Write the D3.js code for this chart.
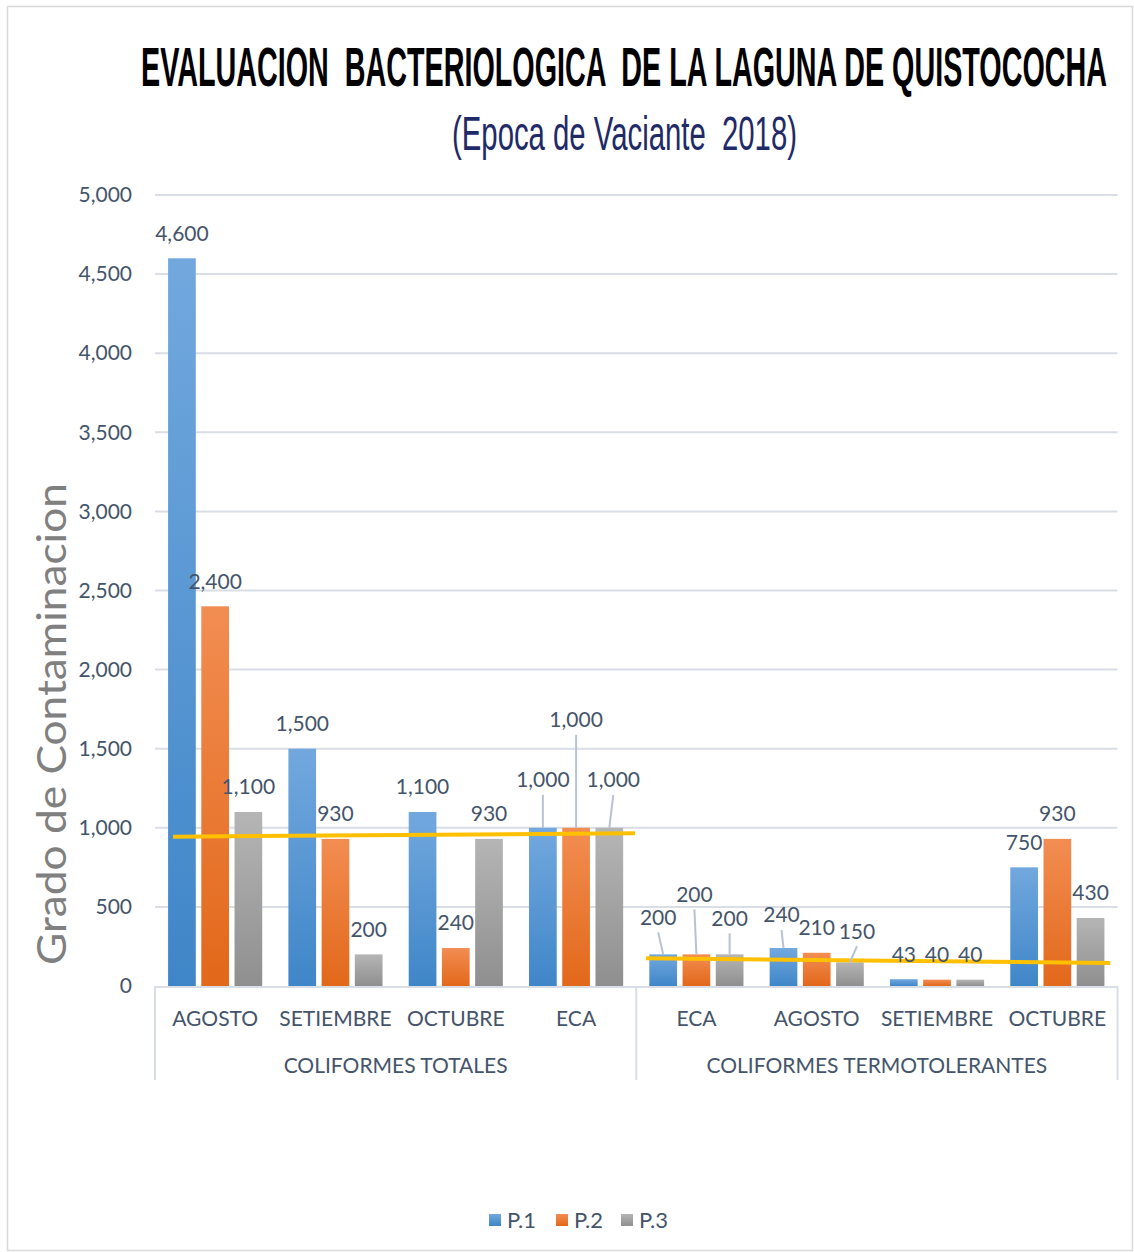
<!DOCTYPE html>
<html><head><meta charset="utf-8">
<script src="https://cdn.jsdelivr.net/npm/d3@7"></script>
<style>
html,body{margin:0;padding:0;background:#fff;}
svg{display:block;}
</style></head>
<body>
<svg id="chart" width="1134" height="1252"></svg>
<script>
// ---- data ----
const groups = ["COLIFORMES TOTALES", "COLIFORMES TERMOTOLERANTES"];
const categories = ["AGOSTO", "SETIEMBRE", "OCTUBRE", "ECA", "ECA", "AGOSTO", "SETIEMBRE", "OCTUBRE"];
const categoryGroup = [0, 0, 0, 0, 1, 1, 1, 1];
const seriesNames = ["P.1", "P.2", "P.3"];
const p1 = [4600, 1500, 1100, 1000, 200, 240, 43, 750];
const p2 = [2400, 930, 240, 1000, 200, 210, 40, 930];
const p3 = [1100, 200, 930, 1000, 200, 150, 40, 430];
const yTicks = [0, 500, 1000, 1500, 2000, 2500, 3000, 3500, 4000, 4500, 5000];
const trendTotales = [944, 965];
const trendTermo = [175, 145];

// ---- layout ----
const svg = d3.select("#chart");
const W = 1134, H = 1252;
const plot = {left: 155, right: 1117.5, top: 195, bottom: 986};
const font = "Lato, 'Open Sans', sans-serif";
const fs = 21;
const textCol = "#44546a";
const gridCol = "#d9dee6";
const colors = [
  ["#72a8de", "#3f86c8"],
  ["#f28d52", "#e2681a"],
  ["#b5b5b5", "#8f8f8f"]
];
const series = [p1, p2, p3];

// label tweaks (layout only): key "cat-series" -> [dx, dy, leader]
const labelAdjust = {
  "3-0": [0, -23, true], "3-1": [0, -83, true], "3-2": [4, -23, true],
  "4-0": [-5, -12, true], "4-1": [-2, -35, true], "4-2": [0, -11, true],
  "5-0": [-2, -8, true], "5-2": [7, -6, true]
};

// border
svg.append("rect").attr("x", 7.5).attr("y", 6.5).attr("width", W - 9).attr("height", H - 8)
  .attr("fill", "#fff").attr("stroke", "#d9d9d9").attr("stroke-width", 1.5);

// gradients
const defs = svg.append("defs");
colors.forEach((c, i) => {
  const g = defs.append("linearGradient").attr("id", "g" + i)
    .attr("x1", 0).attr("y1", 0).attr("x2", 0).attr("y2", 1);
  g.append("stop").attr("offset", "0%").attr("stop-color", c[0]);
  g.append("stop").attr("offset", "100%").attr("stop-color", c[1]);
});

// scales
const idx = categories.map((d, i) => i);
const x0 = d3.scaleBand().domain(idx).range([plot.left, plot.right]).padding(0);
const x1 = d3.scaleBand().domain([0, 1, 2]).range([0, x0.bandwidth()])
  .paddingInner(0.166).paddingOuter(0.394);
const y = d3.scaleLinear().domain([0, 5000]).range([plot.bottom, plot.top]);

// gridlines
svg.append("g").selectAll("line").data(yTicks.filter(d => d > 0)).join("line")
  .attr("x1", plot.left).attr("x2", plot.right)
  .attr("y1", d => y(d)).attr("y2", d => y(d))
  .attr("stroke", gridCol).attr("stroke-width", 2);

// y axis labels
const yAxis = d3.axisLeft(y).tickValues(yTicks).tickFormat(d3.format(",")).tickSize(0).tickPadding(0);
const yg = svg.append("g").attr("transform", `translate(132,0)`).call(yAxis);
yg.select(".domain").remove();
yg.selectAll("text").attr("font-family", font).attr("font-size", fs).attr("fill", textCol);

// category axis lines
svg.append("line").attr("x1", plot.left).attr("x2", plot.right)
  .attr("y1", plot.bottom + 1).attr("y2", plot.bottom + 1)
  .attr("stroke", gridCol).attr("stroke-width", 2);
[plot.left, x0(4), plot.right].forEach(xx => {
  svg.append("line").attr("x1", xx).attr("x2", xx).attr("y1", plot.bottom).attr("y2", 1080)
    .attr("stroke", gridCol).attr("stroke-width", 2);
});

// category labels
svg.append("g").selectAll("text").data(idx).join("text")
  .attr("x", i => x0(i) + x0.bandwidth() / 2).attr("y", 1019).attr("dy", "0.35em")
  .attr("text-anchor", "middle").attr("font-family", font).attr("font-size", fs).attr("fill", textCol)
  .text(i => categories[i]);
svg.append("g").selectAll("text").data(groups).join("text")
  .attr("x", (d, gi) => {
    const cats = idx.filter(i => categoryGroup[i] === gi);
    return (x0(cats[0]) + x0(cats[cats.length - 1]) + x0.bandwidth()) / 2;
  })
  .attr("y", 1066).attr("dy", "0.35em")
  .attr("text-anchor", "middle").attr("font-family", font).attr("font-size", fs).attr("fill", textCol)
  .text(d => d);

// bars
const barData = [];
idx.forEach(i => series.forEach((s, si) => barData.push({i, si, v: s[i]})));
svg.append("g").selectAll("rect").data(barData).join("rect")
  .attr("x", d => x0(d.i) + x1(d.si)).attr("width", x1.bandwidth())
  .attr("y", d => y(d.v)).attr("height", d => y(0) - y(d.v))
  .attr("fill", d => `url(#g${d.si})`);

// trend lines
const lineGen = d3.line().x(d => d[0]).y(d => y(d[1]));
const bw = x0.bandwidth();
const tl = [[plot.left + 0.15 * bw, trendTotales[0]], [plot.left + 3.99 * bw, trendTotales[1]]];
const tr = [[plot.left + 4.08 * bw, trendTermo[0]], [plot.left + 7.94 * bw, trendTermo[1]]];
[tl, tr].forEach(pts => {
  svg.append("path").attr("d", lineGen(pts)).attr("stroke", "#ffc000")
    .attr("stroke-width", 4).attr("fill", "none");
});

// data labels
const lg = svg.append("g");
barData.forEach(d => {
  const cx = x0(d.i) + x1(d.si) + x1.bandwidth() / 2;
  const top = y(d.v);
  const adj = labelAdjust[d.i + "-" + d.si] || [0, 0, false];
  const lx = cx + adj[0], ly = top - 25 + adj[1];
  if (adj[2]) {
    lg.append("line").attr("x1", cx).attr("y1", top).attr("x2", lx).attr("y2", ly + 15)
      .attr("stroke", "#b8c3d2").attr("stroke-width", 2);
  }
  lg.append("text").attr("x", lx).attr("y", ly).attr("dy", "0.35em")
    .attr("text-anchor", "middle").attr("font-family", font).attr("font-size", fs)
    .attr("fill", textCol).text(d3.format(",")(d.v));
});

// titles (scaled horizontally to the reference width)
function fitText(sel, cx, targetW) {
  const w = sel.node().getComputedTextLength();
  const k = targetW / w;
  sel.attr("x", 0).attr("transform", `translate(${cx},0) scale(${k},1)`);
}
const narrow = "'Liberation Sans Narrow', 'Arial Narrow', 'Liberation Sans', sans-serif";
const t1 = svg.append("text").attr("y", 86).attr("text-anchor", "middle")
  .attr("font-family", narrow).attr("font-weight", "bold").attr("font-size", 56).attr("fill", "#000")
  .style("white-space", "pre")
  .text("EVALUACION  BACTERIOLOGICA  DE LA LAGUNA DE QUISTOCOCHA");
fitText(t1, 624, 966);
const t2 = svg.append("text").attr("y", 150).attr("text-anchor", "middle")
  .attr("font-family", narrow).attr("font-size", 48).attr("fill", "#1f2a68")
  .style("white-space", "pre")
  .text("(Epoca de Vaciante  2018)");
fitText(t2, 624.5, 345);

// y axis title
const yt = svg.append("text").attr("y", 0)
  .attr("text-anchor", "middle").attr("font-family", font).attr("font-size", 40)
  .attr("fill", "#808080")
  .text("Grado de Contaminacion");
const ytw = yt.node().getComputedTextLength();
yt.attr("transform", `translate(66,724) rotate(-90) scale(${482 / ytw},1)`);

// legend
const legX = [489, 556, 621];
const leg = svg.append("g");
seriesNames.forEach((n, i) => {
  leg.append("rect").attr("x", legX[i]).attr("y", 1214).attr("width", 12).attr("height", 12)
    .attr("fill", `url(#g${i})`);
  leg.append("text").attr("x", legX[i] + 18).attr("y", 1220).attr("dy", "0.35em")
    .attr("font-family", font).attr("font-size", 22).attr("fill", textCol).text(n);
});
</script>
</body></html>
